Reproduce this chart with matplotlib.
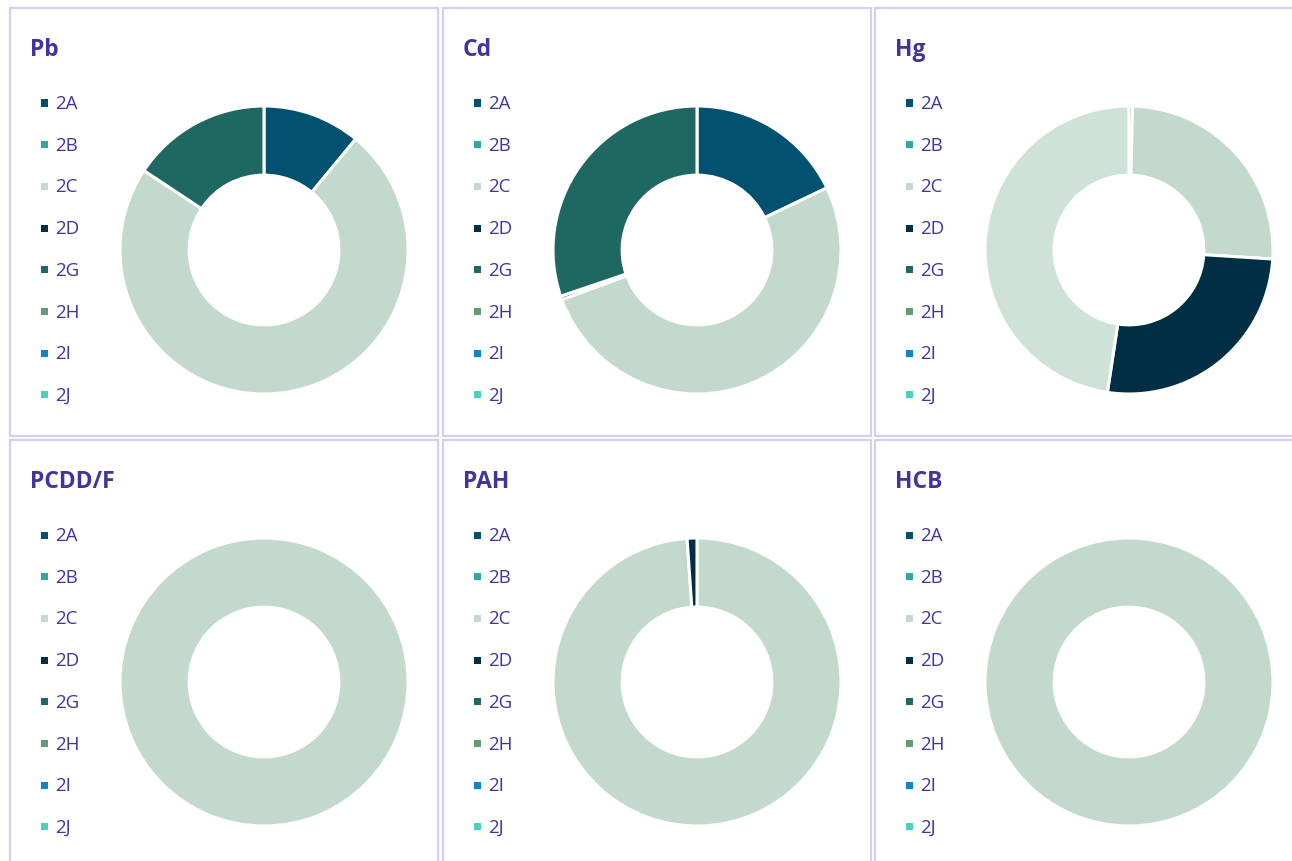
import matplotlib.pyplot as plt
from matplotlib.patches import Rectangle

plt.rcParams['font.family'] = ['Open Sans', 'DejaVu Sans']

# categories shown in every legend
categories = ['2A', '2B', '2C', '2D', '2G', '2H', '2I', '2J']
colors = ['#00506F', '#2EA99B', '#C2D9CC', '#002F45',
          '#1F6862', '#5E9B7A', '#0A86C6', '#52CBC0']

# share of each category (%)
pb = [11.0, 0, 73.3, 0, 15.7, 0, 0, 0]
cd = [17.9, 0, 51.5, 0.4, 30.2, 0, 0, 0]
hg = [0.4, 0, 25.6, 26.4, 0, 0, 0, 0]
pcddf = [0, 0, 100.0, 0, 0, 0, 0, 0]
pah = [0, 0, 98.9, 1.1, 0, 0, 0, 0]
hcb = [0, 0, 100.0, 0, 0, 0, 0, 0]

# Hg has an extra, paler slice that is not in the legend
hg_rest = 47.6
rest_color = '#CFE2D7'

titles = ['Pb', 'Cd', 'Hg', 'PCDD/F', 'PAH', 'HCB']
panels = [pb, cd, hg, pcddf, pah, hcb]

TEXT = '#3F35A0'
BORDER = '#D3CFF0'
W, H = 1292, 861

fig = plt.figure(figsize=(W / 100, H / 100), dpi=100)


def fx(x):
    return x / W


def fy(y):
    return 1 - y / H


col_x = [10, 443, 875]
row_y = [8, 440]
for r in range(2):
    for c in range(3):
        i = r * 3 + c
        x0, y0 = col_x[c], row_y[r]
        # panel frame
        fig.patches.append(Rectangle((fx(x0), fy(y0 + 428)), 428 / W, 428 / H,
                                     transform=fig.transFigure, fill=False,
                                     edgecolor=BORDER, lw=1.6, zorder=0))
        fig.text(fx(x0 + 20), fy(y0 + 42), titles[i], color=TEXT,
                 fontsize=16.5, fontweight='bold', va='center', ha='left')

        # legend
        for k, (cat, colr) in enumerate(zip(categories, colors)):
            ly = y0 + 95 + k * 41.7
            fig.patches.append(Rectangle((fx(x0 + 31), fy(ly + 3.5)), 7 / W, 7 / H,
                                         transform=fig.transFigure,
                                         facecolor=colr, edgecolor='none'))
            fig.text(fx(x0 + 45), fy(ly + 1), cat, color=TEXT, fontsize=13.5,
                     va='center', ha='left')

        # donut
        vals = [v for v in panels[i] if v > 0]
        cols = [colors[j] for j, v in enumerate(panels[i]) if v > 0]
        if titles[i] == 'Hg':
            vals.append(hg_rest)
            cols.append(rest_color)
        cx, cy, rad = x0 + 254, y0 + 242, 144
        ax = fig.add_axes([fx(cx - rad), fy(cy + rad), 2 * rad / W, 2 * rad / H])
        ax.pie(vals, colors=cols, startangle=90, counterclock=False,
               wedgeprops=dict(width=0.48, edgecolor='white', linewidth=2.2))
        ax.set_xlim(-1, 1)
        ax.set_ylim(-1, 1)
        ax.set_aspect('equal')
        ax.axis('off')

fig.savefig('out.png', dpi=100)
